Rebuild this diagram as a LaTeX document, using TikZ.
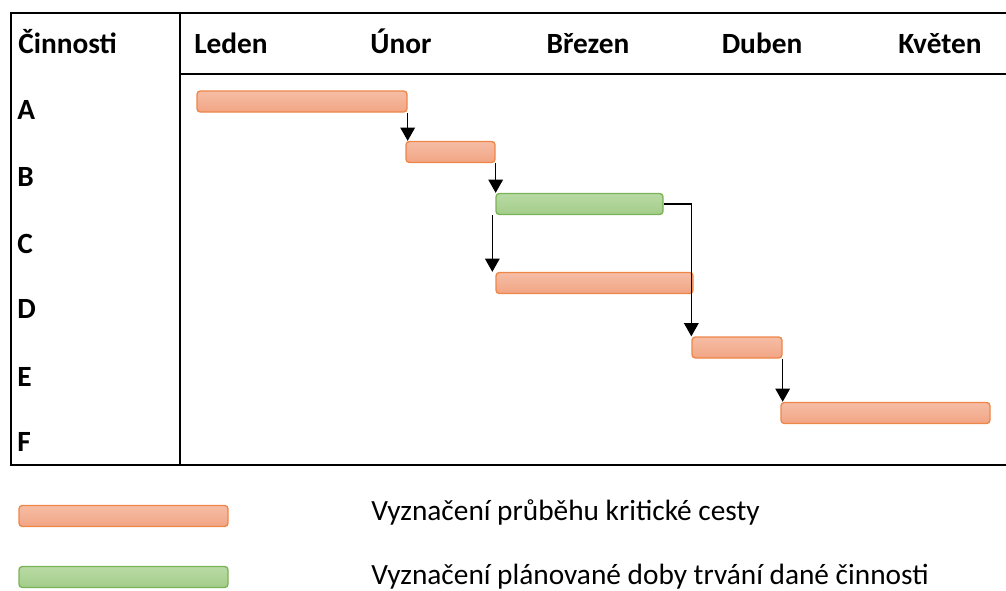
\documentclass[tikz,border=0pt]{standalone}
\usepackage{fontspec}
\setmainfont{Carlito}
\usetikzlibrary{arrows.meta,calc}
\definecolor{orfillT}{HTML}{F6BDA5}
\definecolor{orfillB}{HTML}{F1A584}
\definecolor{ordraw}{HTML}{EE8648}
\definecolor{grfillT}{HTML}{B8DAA4}
\definecolor{grfillB}{HTML}{A3CD8A}
\definecolor{grdraw}{HTML}{7AB356}
\tikzset{
  bar/.style={rounded corners=2.5pt, line width=1pt, inner sep=0pt, minimum height=21*0.75pt},
  crit/.style={bar, draw=ordraw, top color=orfillT, bottom color=orfillB},
  plan/.style={bar, draw=grdraw, top color=grfillT, bottom color=grfillB},
  frame/.style={line width=2pt, black},
  dep/.style={line width=1.1pt, -{Triangle[width=11pt,length=10pt]}},
  hdr/.style={font=\fontsize{22}{26}\selectfont\bfseries, inner sep=0pt, anchor=base},
  rowl/.style={font=\fontsize{22}{26}\selectfont\bfseries, inner sep=0pt, anchor=base west},
  legtxt/.style={font=\fontsize{22}{26}\selectfont, inner sep=0pt, anchor=base west}
}
\begin{document}
\begin{tikzpicture}[x=0.75pt,y=-0.75pt]
\useasboundingbox (0,0) rectangle (1006,590);
% frame
\coordinate (tl) at (11,13);
\coordinate (tr) at (1006,13);
\coordinate (bl) at (11,465);
\coordinate (br) at (1006,465);
\coordinate (dt) at (180,13);
\coordinate (db) at (180,465);
\coordinate (hl) at (180,74);
\coordinate (hr) at (1006,74);
\draw[frame] (tr) -- (tl) -- (bl) -- (br);
\draw[frame] (dt) -- (db);
\draw[frame] (hl) -- (hr);
% headers
\node[rowl] (hc) at (18,53) {Činnosti};
\node[hdr] (m1) at (231,53) {Leden};
\node[hdr] (m2) at (401,53) {Únor};
\node[hdr] (m3) at (588,53) {Březen};
\node[hdr] (m4) at (762,53) {Duben};
\node[hdr] (m5) at (940,53) {Květen};
% row labels
\node[rowl] (lA) at (17,119) {A};
\node[rowl] (lB) at (17,186) {B};
\node[rowl] (lC) at (17,253) {C};
\node[rowl] (lD) at (17,318) {D};
\node[rowl] (lE) at (17,386) {E};
\node[rowl] (lF) at (17,451) {F};
% bars
\node[crit, minimum width=210*0.75pt] (A) at (302,101.5) {};
\node[crit, minimum width=89*0.75pt] (B) at (450.5,152) {};
\node[plan, minimum width=167*0.75pt] (C) at (579.5,204) {};
\node[crit, minimum width=197*0.75pt] (D) at (594.5,283) {};
\node[crit, minimum width=90*0.75pt] (E) at (737,347.5) {};
\node[crit, minimum width=209*0.75pt] (F) at (885.5,413) {};
% dependencies
\coordinate (cs) at ($(C.south west)+(-3,0)$);
\draw[dep] (A.south east) -- (A.south east |- B.north);
\draw[dep] (B.south east) -- (B.south east |- C.north);
\draw[dep] (cs) -- (cs |- D.north);
\draw[dep] (C.east) -| (E.north west);
\draw[dep] (E.south east) -- (E.south east |- F.north);
% legend
\node[crit, minimum width=209*0.75pt] (LO) at (123.5,516) {};
\node[plan, minimum width=209*0.75pt] (LG) at (123.5,577) {};
\node[legtxt] (TO) at (371,520) {Vyznačení průběhu kritické cesty};
\node[legtxt] (TG) at (371,584) {Vyznačení plánované doby trvání dané činnosti};
\end{tikzpicture}
\end{document}
